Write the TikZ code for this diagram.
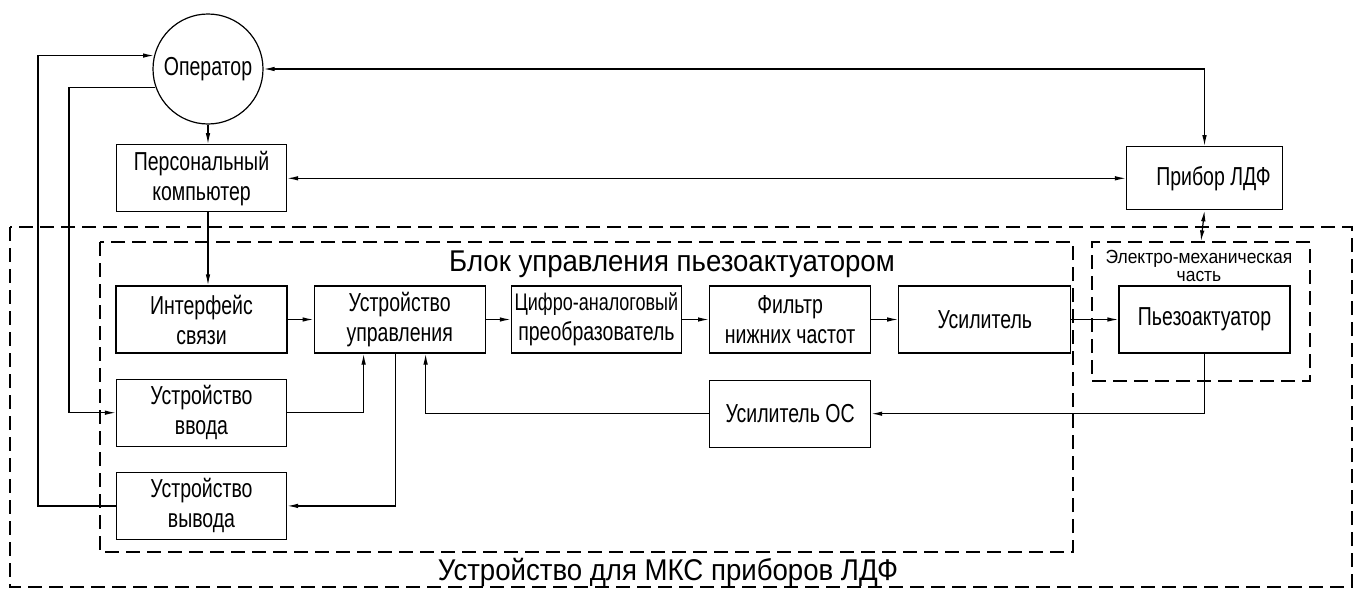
\documentclass[tikz,border=0pt]{standalone}
\usepackage{fontspec}
\setmainfont{Liberation Sans}[FakeStretch=0.75]
\newfontfamily\widefont{Liberation Sans}[FakeStretch=0.92]
\usepackage{tikz}
\usetikzlibrary{arrows.meta,positioning}

\begin{document}
\begin{tikzpicture}[
    x=1pt, y=-1pt,
    font=\fontsize{26}{30}\selectfont,
    line width=1.2pt,
    node distance=25pt and 26pt,
    blk/.style={draw, align=center, inner sep=2pt, minimum width=171pt, minimum height=67pt},
    circ/.style={draw, circle, inner sep=0pt, minimum size=110pt},
    frame/.style={draw, dash pattern=on 14pt off 7pt},
    title/.style={font=\widefont\fontsize{30}{30}\selectfont, anchor=base},
    arrow/.style={-{Latex[length=11pt,width=4.5pt]}},
    biarrow/.style={{Latex[length=11pt,width=4.5pt]}-{Latex[length=11pt,width=4.5pt]}}
  ]
    \useasboundingbox (0,0) rectangle (1359,589);

    % dashed frames
    \draw[frame] (10,227) rectangle (1352,587);
    \draw[frame] (100,242) rectangle (1073,552);
    \node[frame, minimum width=218pt, minimum height=139pt] (emech) at (1201,311.5) {};

    \node[title] (devtitle) at (668,580) {Устройство для МКС приборов ЛДФ};
    \node[title] (blocktitle) at (672,271) {Блок управления пьезоактуатором};
    \node[align=center, font=\widefont\fontsize{19}{18}\selectfont] (emechtitle) at (1199,266) {Электро-механическая\\часть};

    % main chain
    \node[blk] (iface) at (201.5,319.5) {Интерфейс\\связи};
    \node[blk, right=of iface] (ctrl) {Устройство\\управления};
    \node[blk, right=25pt of ctrl, minimum width=170pt] (dac) {\fontsize{24}{28}\selectfont Цифро-аналоговый\\преобразователь};
    \node[blk, right=27pt of dac, minimum width=161pt] (lpf) {Фильтр\\нижних частот};
    \node[blk, right=27pt of lpf, minimum width=172pt] (amp) {Усилитель};
    \node[blk, right=47pt of amp] (piezo) {Пьезоактуатор};

    \node[blk, below=of iface, minimum width=170pt] (vvod) {Устройство\\ввода};
    \node[blk, below=of vvod, minimum width=170pt] (vyvod) {Устройство\\вывода};
    \node[blk, below=26pt of lpf, minimum width=161pt] (oc) {Усилитель ОС};

    \node[blk, above=73pt of iface, minimum width=170pt] (pc) {Персональный\\компьютер};
    \node[circ] (op) at (208,69) {Оператор};
    \node[blk, above=75pt of piezo, minimum width=156pt, minimum height=63pt] (pribor) {\hspace*{18pt}Прибор ЛДФ};

    \draw[arrow] (op.south) -- (op.south |- pc.north);
    \draw[arrow] (op.south |- pc.south) -- (op.south |- iface.north);
    \draw[biarrow] (op.east) -| (pribor.north);
    \draw[biarrow] (pc.east) -- (pribor.west);
    \draw[biarrow] (pribor.south) -- (emech.north);

    \draw[arrow] (iface) -- (ctrl);
    \draw[arrow] (ctrl) -- (dac);
    \draw[arrow] (dac) -- (lpf);
    \draw[arrow] (lpf) -- (amp);
    \draw[arrow] (amp) -- (piezo);

    \draw[arrow] (vvod.east) -| ([xshift=50pt]ctrl.south west);
    \draw[arrow] ([xshift=82pt]ctrl.south west) |- (vyvod.east);
    \draw[arrow] (piezo.south) |- (oc.east);
    \draw[arrow] (oc.west) -| ([xshift=112pt]ctrl.south west);

    \draw[arrow] (vyvod.west) -- ([xshift=-78pt]vyvod.west) |- (op.166);
    \draw[arrow] (op.199) -| ([xshift=-47pt]vvod.west) -- (vvod.west);
  \end{tikzpicture}
\end{document}
